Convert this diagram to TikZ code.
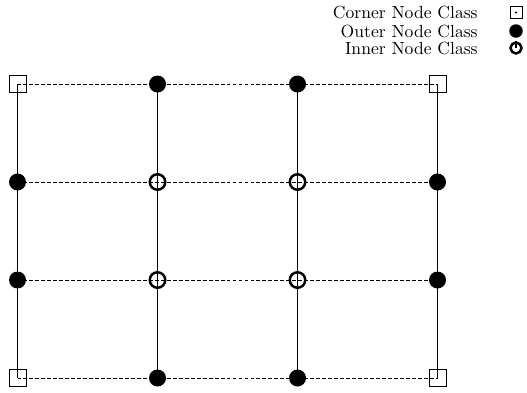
\documentclass[tikz,border=0pt]{standalone}
\usepackage{tikz}
\begin{document}
\begin{tikzpicture}
\useasboundingbox (0,0) rectangle (10.54,7.84);
\tikzset{corner/.style={draw,rectangle,minimum size=0.34cm,inner sep=0pt},
  outer/.style={circle,fill=black,minimum size=0.34cm,inner sep=0pt},
  inner/.style={circle,draw,line width=1.4pt,minimum size=0.31cm,inner sep=0pt},
  hline/.style={dash pattern=on 2.2pt off 1.2pt},
  legtext/.style={anchor=east,inner sep=0pt}}
% grid points
\foreach \i in {0,...,3}
  \foreach \j in {0,...,3}
    \coordinate (p\i\j) at (0.35+2.8*\i, 0.28+1.96*\j);
% lines
\foreach \i in {0,...,3}
  \draw (p\i0) -- (p\i3);
\foreach \j in {0,...,3}
  \draw[hline] (p0\j) -- (p3\j);
% nodes
\foreach \p in {p00,p03,p30,p33}
  \node[corner] (n\p) at (\p) {};
\foreach \p in {p10,p20,p13,p23,p01,p02,p31,p32}
  \node[outer] (n\p) at (\p) {};
\foreach \p in {p11,p12,p21,p22}
  \node[inner] (n\p) at (\p) {};
% legend
\node[legtext] (tc) at (9.56,7.59) {Corner Node Class};
\node[corner,minimum size=0.24cm] (lc) at (10.32,7.59) {};
\fill (lc.center) circle (0.6pt);
\node[legtext] (to) at (9.56,7.22) {Outer Node Class};
\node[outer,minimum size=0.27cm] (lo) at (10.32,7.22) {};
\node[legtext] (ti) at (9.56,6.88) {Inner Node Class};
\node[inner,minimum size=0.22cm] (li) at (10.32,6.88) {};
\draw[line width=1.4pt] (li.north) -- (li.center);
\end{tikzpicture}
\end{document}
